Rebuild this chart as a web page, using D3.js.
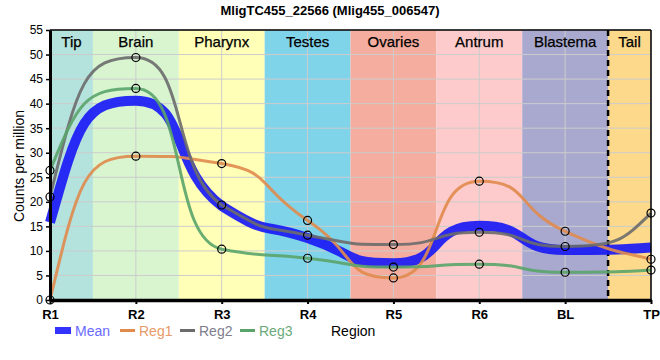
<!DOCTYPE html>
<html><head><meta charset="utf-8">
<script src="https://cdn.jsdelivr.net/npm/d3@7"></script>
<style>
body{margin:0;background:#fff;}
text{font-family:"Liberation Sans Narrow","Liberation Sans",Arial,sans-serif;}
</style></head>
<body><svg id="c" width="660" height="360"></svg>
<script>
const title = "MligTC455_22566 (Mlig455_006547)";
const categories = ["R1","R2","R3","R4","R5","R6","BL","TP"];
const regions = ["Tip","Brain","Pharynx","Testes","Ovaries","Antrum","Blastema","Tail"];
const regionColors = ["#b4e2dd","#d8f5d0","#ffffb8","#80d4ea","#f5ad9f","#fdcbcb","#a9a9cf","#fdd98c"];
const reg1 = [0, 29.3, 27.8, 16.2, 4.5, 24.2, 14.0, 8.3];
const reg2 = [21.0, 49.4, 19.35, 13.2, 11.3, 13.8, 10.9, 17.7];
const reg3 = [26.4, 43.1, 10.35, 8.5, 6.7, 7.3, 5.65, 6.1];
const mean = reg1.map((v,i)=> (v + reg2[i] + reg3[i]) / 3);
const yTicks = d3.range(0, 56, 5);
const seriesNames = ["Reg1","Reg2","Reg3"];
const seriesColors = ["#e08b4c","#6b6b6b","#5aa46a"];

// monotone-style spline with long handles (sharp, flat-topped transitions)
function curveSmooth(context){
  let pts;
  return {
    areaStart(){}, areaEnd(){},
    lineStart(){ pts = []; },
    point(x, y){ pts.push([+x, +y]); },
    lineEnd(){
      const n = pts.length;
      if (!n) return;
      context.moveTo(pts[0][0], pts[0][1]);
      if (n < 2) return;
      const h = [], s = [], m = new Array(n).fill(0);
      for (let i = 0; i < n-1; i++){ h[i] = pts[i+1][0]-pts[i][0]; s[i] = (pts[i+1][1]-pts[i][1])/h[i]; }
      for (let i = 1; i < n-1; i++){
        const p = (s[i-1]*h[i] + s[i]*h[i-1])/(h[i-1]+h[i]);
        m[i] = (Math.sign(s[i-1]) + Math.sign(s[i])) * Math.min(Math.abs(s[i-1]), Math.abs(s[i]), 0.5*Math.abs(p)) || 0;
      }
      const endSlope = (sd, mn) => {
        let v = 2.5*sd - 1.2*mn;
        if (Math.sign(v) !== Math.sign(sd)) v = 0;
        if (Math.abs(v) > 3*Math.abs(sd)) v = 3*sd;
        return v;
      };
      m[0] = endSlope(s[0], m[1]);
      m[n-1] = endSlope(s[n-2], m[n-2]);
      const A = 0.6, AE = 1/3;
      for (let i = 0; i < n-1; i++){
        const [x0,y0] = pts[i], [x1,y1] = pts[i+1];
        const a0 = i === 0 ? AE : A, a1 = i+1 === n-1 ? AE : A;
        const lo = Math.min(y0,y1), hi = Math.max(y0,y1);
        const c1y = Math.max(lo, Math.min(hi, y0 + m[i]*a0*h[i]));
        const c2y = Math.max(lo, Math.min(hi, y1 - m[i+1]*a1*h[i]));
        context.bezierCurveTo(x0 + a0*h[i], c1y, x1 - a1*h[i], c2y, x1, y1);
      }
    }
  };
}

const svg = d3.select("#c");
const L = 50, R = 651, T = 30, B = 300;
const x = d3.scaleLinear().domain([0, categories.length-1]).range([L, R]);
const y = d3.scaleLinear().domain([0, 55]).range([B, T]);

// region bands
regions.forEach((r,i)=>{
  const x0 = x(Math.max(0, i-0.5)), x1 = x(Math.min(categories.length-1, i+0.5));
  svg.append("rect").attr("x",x0).attr("y",T).attr("width",x1-x0).attr("height",B-T).attr("fill",regionColors[i]);
});
// grid
svg.append("g").selectAll("line").data(yTicks).join("line")
  .attr("x1",L).attr("x2",R).attr("y1",d=>y(d)).attr("y2",d=>y(d))
  .attr("stroke","#cccccc").attr("stroke-width",1);
svg.append("g").selectAll("line").data(categories).join("line")
  .attr("x1",(d,i)=>x(i)).attr("x2",(d,i)=>x(i)).attr("y1",T).attr("y2",B)
  .attr("stroke","#cccccc").attr("stroke-width",1);
// region labels
regions.forEach((r,i)=>{
  const x0 = x(Math.max(0, i-0.5)), x1 = x(Math.min(categories.length-1, i+0.5));
  svg.append("text").attr("x",(x0+x1)/2).attr("y",47).attr("text-anchor","middle")
    .attr("font-size",15).attr("fill","#000").attr("stroke","#000").attr("stroke-width",0.25).text(r);
});
// dashed separator
svg.append("line").attr("x1",x(6.5)).attr("x2",x(6.5)).attr("y1",T).attr("y2",B)
  .attr("stroke","#000").attr("stroke-width",2.5).attr("stroke-dasharray","6,4");

// lines
const line = d3.line().x((d,i)=>x(i)).y(d=>y(d)).curve(curveSmooth);
svg.append("path").attr("d",line(mean)).attr("fill","none").attr("stroke","#1a1af5")
  .attr("stroke-width",10).attr("stroke-opacity",0.92);
[reg1,reg2,reg3].forEach((s,k)=>{
  svg.append("path").attr("d",line(s)).attr("fill","none").attr("stroke",seriesColors[k])
    .attr("stroke-width",3).attr("stroke-opacity",0.9);
});
[reg1,reg2,reg3].forEach((s,k)=>{
  svg.append("g").selectAll("circle").data(s).join("circle")
    .attr("cx",(d,i)=>x(i)).attr("cy",d=>y(d)).attr("r",4)
    .attr("fill","none").attr("stroke","#000").attr("stroke-width",1.2);
});

// frame
svg.append("line").attr("x1",L).attr("x2",R).attr("y1",T).attr("y2",T).attr("stroke","#000").attr("stroke-width",1.5);
svg.append("line").attr("x1",R).attr("x2",R).attr("y1",T).attr("y2",B).attr("stroke","#000").attr("stroke-width",1.5);

// axes
const yAxis = svg.append("g").attr("transform",`translate(${L},0)`)
  .call(d3.axisLeft(y).tickValues(yTicks).tickSize(4).tickSizeOuter(0));
yAxis.select(".domain").attr("stroke-width",3);
yAxis.selectAll("text").attr("font-size",12).attr("fill","#000").attr("font-family","Liberation Sans Narrow");
yAxis.selectAll(".tick line").attr("stroke-width",1.5);
const xAxis = svg.append("g").attr("transform",`translate(0,${B})`)
  .call(d3.axisBottom(x).tickValues(d3.range(categories.length)).tickFormat(i=>categories[i]).tickSize(4).tickSizeOuter(0));
xAxis.select(".domain").attr("stroke-width",3.5);
xAxis.selectAll("text").attr("font-size",13).attr("font-weight","bold").attr("fill","#000").attr("font-family","Liberation Sans Narrow").attr("dy","0.9em");
xAxis.selectAll(".tick line").attr("stroke-width",2);

// title
svg.append("text").attr("x",330).attr("y",15).attr("text-anchor","middle").attr("font-size",13).attr("font-weight","bold").text(title);
// y title
svg.append("text").attr("transform","translate(24,166) rotate(-90)").attr("text-anchor","middle").attr("font-size",14).text("Counts per million");
// x title
svg.append("text").attr("x",331).attr("y",336).attr("font-size",14).text("Region");

// legend
const lg = svg.append("g");
lg.append("rect").attr("x",55).attr("y",327).attr("width",16).attr("height",7).attr("fill","#3333ff");
lg.append("text").attr("x",75).attr("y",336).attr("font-size",14).attr("fill","#6a6aff").text("Mean");
const legX = [120,180,240];
seriesNames.forEach((n,k)=>{
  lg.append("line").attr("x1",legX[k]).attr("x2",legX[k]+15).attr("y1",330.5).attr("y2",330.5).attr("stroke",seriesColors[k]).attr("stroke-width",3);
  lg.append("text").attr("x",legX[k]+19).attr("y",336).attr("font-size",14).attr("fill",["#e89a68","#7d7d8d","#6aaa7a"][k]).text(n);
});
</script></body></html>
